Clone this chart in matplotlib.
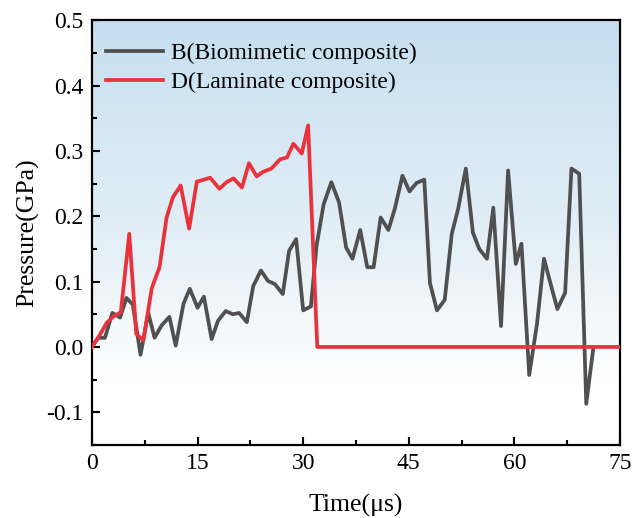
import numpy as np
import matplotlib
matplotlib.use('Agg')
import matplotlib.pyplot as plt
from matplotlib.colors import LinearSegmentedColormap
from matplotlib.ticker import MultipleLocator

t_bio = [0, 0.9, 1.85, 2.9, 4.0, 4.9, 5.8, 6.9, 8.0, 8.9, 9.9, 11.0, 11.9, 13.0, 13.9,
         15.0, 15.9, 17.0, 17.9, 19.0, 20.0, 20.9, 22.0, 22.9, 24.0, 25.0, 26.0, 27.1,
         28.0, 29.0, 30.0, 31.1, 31.9, 32.9, 34.0, 35.1, 36.1, 37.0, 38.1, 39.1, 40.0,
         41.0, 42.1, 43.0, 44.1, 45.1, 46.1, 47.2, 48.0, 49.0, 50.1, 51.1, 52.0, 53.1,
         54.1, 55.0, 56.1, 57.0, 58.1, 59.1, 60.2, 61.0, 62.1, 63.2, 64.2, 65.1, 66.1,
         67.2, 68.1, 69.2, 70.2, 71.2]
p_bio = [0.0, 0.014, 0.014, 0.052, 0.045, 0.075, 0.065, -0.012, 0.052, 0.014, 0.033,
         0.046, 0.002, 0.066, 0.089, 0.06, 0.077, 0.012, 0.04, 0.055, 0.05, 0.052, 0.038,
         0.093, 0.117, 0.101, 0.096, 0.081, 0.147, 0.165, 0.056, 0.062, 0.155, 0.218,
         0.252, 0.221, 0.152, 0.135, 0.179, 0.122, 0.122, 0.198, 0.179, 0.211, 0.262,
         0.238, 0.251, 0.256, 0.098, 0.056, 0.072, 0.173, 0.211, 0.273, 0.175, 0.15,
         0.135, 0.213, 0.032, 0.27, 0.127, 0.158, -0.043, 0.035, 0.135, 0.098, 0.058,
         0.083, 0.273, 0.265, -0.087, -0.002]

t_lam = [0, 1.1, 2.1, 3.1, 4.1, 5.3, 6.3, 7.3, 8.5, 9.6, 10.6, 11.5, 12.6, 13.8, 14.9,
         15.9, 16.8, 18.1, 19.1, 20.1, 21.3, 22.3, 23.4, 24.3, 25.5, 26.7, 27.7, 28.6,
         29.8, 30.7, 32.0, 75.0]
p_lam = [0.0, 0.018, 0.037, 0.047, 0.053, 0.173, 0.02, 0.01, 0.09, 0.122, 0.198, 0.229,
         0.247, 0.181, 0.253, 0.256, 0.259, 0.242, 0.252, 0.258, 0.244, 0.281, 0.261,
         0.268, 0.273, 0.287, 0.29, 0.311, 0.296, 0.339, 0.0, 0.0]

plt.rcParams['font.family'] = ['Liberation Serif', 'DejaVu Serif']
plt.rcParams['font.size'] = 17

fig = plt.figure(figsize=(6.34, 5.18), dpi=100)
ax = fig.add_axes([0.145, 0.141, 0.833, 0.820])

# fond dégradé bleu -> blanc
grad = np.linspace(0, 1, 256).reshape(-1, 1)
cmap = LinearSegmentedColormap.from_list('bg', [(0.0, '#c6dff0'), (0.55, '#e6f0f7'), (0.85, '#ffffff'), (1.0, '#ffffff')])
ax.imshow(grad, cmap=cmap, aspect='auto', extent=[0, 1, 0, 1], origin='upper',
          transform=ax.transAxes, zorder=0)

ax.plot(t_bio, p_bio, color='#505050', lw=2.7, label='B(Biomimetic composite)', zorder=2)
ax.plot(t_lam, p_lam, color='#e8333c', lw=2.7, label='D(Laminate composite)', zorder=3)

ax.set_xlim(0, 75)
ax.set_ylim(-0.15, 0.5)
ax.xaxis.set_major_locator(MultipleLocator(15))
ax.xaxis.set_minor_locator(MultipleLocator(7.5))
ax.yaxis.set_minor_locator(MultipleLocator(0.05))
ax.set_yticks([-0.1, 0.0, 0.1, 0.2, 0.3, 0.4, 0.5])
ax.set_yticklabels(['-0.1', '0.0', '0.1', '0.2', '0.3', '0.4', '0.5'])
ax.tick_params(which='major', direction='in', length=6, width=1.5, labelsize=17, pad=6)
ax.tick_params(which='minor', direction='in', length=3.5, width=1.5)
for s in ax.spines.values():
    s.set_linewidth(1.6)

ax.set_xlabel('Time(μs)', fontsize=18.5, labelpad=14)
ax.set_ylabel('Pressure(GPa)', fontsize=18.5, labelpad=5)

ax.legend(loc='upper left', frameon=False, fontsize=17, handlelength=2.4,
          handletextpad=0.35, borderaxespad=0.2, labelspacing=0.3,
          bbox_to_anchor=(0.0, 0.98))

fig.savefig('out.png', dpi=100)
